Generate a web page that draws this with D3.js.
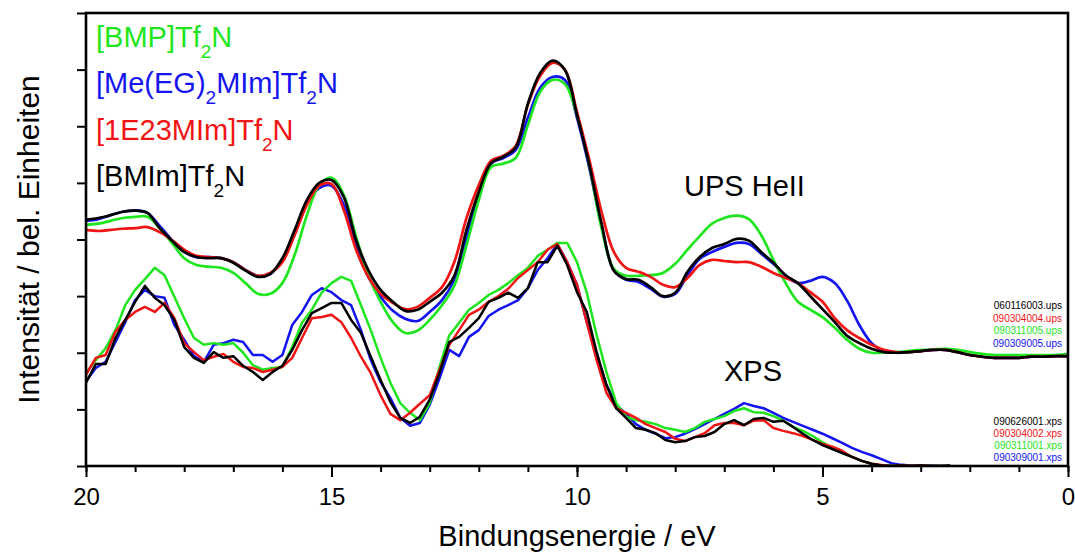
<!DOCTYPE html>
<html><head><meta charset="utf-8">
<script src="https://cdn.jsdelivr.net/npm/d3@7"></script>
<style>
body{margin:0;background:#fff;}
text{font-family:Arial,"Liberation Sans",sans-serif;}
</style></head>
<body><svg id="chart" width="1075" height="552"></svg>
<script>
// ---------- DATA ----------
// energy grids (eV)
const upsEnergy = d3.range(0, 81).map(i => 20 - i * 0.25);
const xpsEnergy = d3.range(0, 89).map(i => 20 - i * 0.2);

// UPS HeII spectra (arb. units)
const upsBMIm = [4.35,4.38,4.43,4.49,4.51,4.47,4.20,3.98,3.78,3.69,
3.67,3.67,3.59,3.45,3.34,3.39,3.67,4.17,4.70,5.00,
5.05,4.75,3.99,3.46,3.11,2.90,2.74,2.76,2.90,3.06,
3.36,4.17,4.84,5.35,5.46,5.62,6.40,6.94,7.16,7.00,
6.20,5.32,4.28,3.45,3.30,3.29,3.16,3.00,3.06,3.43,
3.69,3.85,3.92,4.01,3.98,3.78,3.59,3.37,3.23,3.00,
2.77,2.54,2.30,2.17,2.07,2.01,2.00,2.01,2.03,2.05,
2.05,2.01,1.96,1.93,1.91,1.91,1.91,1.93,1.93,1.94,
1.94];
const upsMeEG = [4.33,4.36,4.43,4.49,4.51,4.47,4.24,3.99,3.78,3.69,
3.69,3.67,3.60,3.46,3.36,3.39,3.64,4.13,4.65,4.91,
4.95,4.61,3.90,3.34,2.99,2.74,2.60,2.56,2.72,2.93,
3.29,4.03,4.75,5.34,5.44,5.58,6.15,6.68,6.87,6.82,
6.15,5.27,4.24,3.46,3.29,3.25,3.13,2.99,3.04,3.37,
3.66,3.78,3.87,3.94,3.92,3.75,3.57,3.36,3.23,3.27,
3.34,3.23,2.92,2.49,2.17,2.03,2.00,2.01,2.03,2.05,
2.05,2.01,1.96,1.93,1.91,1.91,1.91,1.93,1.93,1.94,
1.94];
const upsBMP = [4.26,4.28,4.33,4.38,4.40,4.40,4.20,3.94,3.67,3.55,
3.52,3.50,3.41,3.23,3.04,3.04,3.23,3.73,4.43,4.96,
5.09,4.79,4.05,3.37,2.90,2.54,2.35,2.39,2.58,2.84,
3.18,3.90,4.70,5.28,5.34,5.44,6.02,6.61,6.82,6.75,
6.20,5.32,4.20,3.48,3.36,3.36,3.37,3.41,3.57,3.82,
4.06,4.28,4.38,4.42,4.36,4.08,3.64,3.23,2.90,2.76,
2.63,2.44,2.23,2.07,2.00,2.00,2.01,2.03,2.05,2.06,
2.07,2.05,2.01,1.98,1.96,1.96,1.96,1.96,1.96,1.96,
1.98];
const upsE23 = [4.17,4.15,4.17,4.19,4.20,4.22,4.13,3.99,3.82,3.71,
3.69,3.67,3.60,3.46,3.36,3.41,3.60,4.08,4.61,4.95,
4.98,4.52,3.82,3.34,3.04,2.88,2.77,2.81,2.97,3.16,
3.60,4.38,4.96,5.39,5.48,5.65,6.38,6.89,7.12,7.00,
6.25,5.41,4.49,3.78,3.50,3.43,3.34,3.20,3.16,3.32,
3.55,3.64,3.62,3.60,3.60,3.52,3.41,3.32,3.23,3.07,
2.90,2.61,2.40,2.26,2.14,2.05,2.01,2.01,2.03,2.05,
2.05,2.01,1.96,1.93,1.91,1.91,1.91,1.93,1.93,1.94,
1.94];

// XPS valence spectra (arb. units)
const xpsBMIm = [1.47,1.80,1.80,2.26,2.58,2.90,3.18,2.97,2.84,2.58,
2.10,1.91,1.82,2.01,1.91,1.94,1.77,1.66,1.52,1.66,
1.77,2.05,2.40,2.70,2.79,2.88,2.88,2.58,2.35,1.93,
1.52,1.13,0.85,0.76,0.87,1.17,1.64,2.19,2.28,2.44,
2.61,2.90,2.97,3.06,2.97,3.14,3.60,3.60,3.89,3.55,
3.07,2.72,2.01,1.43,1.02,0.85,0.67,0.64,0.58,0.46,
0.42,0.44,0.51,0.53,0.60,0.74,0.81,0.72,0.83,0.85,
0.78,0.80,0.69,0.57,0.46,0.37,0.30,0.23,0.16,0.09,
0.04,0.01,0.00,0.01,0.00,0.01,0.00,0.00,0.01];
const xpsMeEG = [1.50,1.73,1.84,2.19,2.54,2.93,3.11,3.00,2.97,2.49,
2.23,1.94,1.84,2.14,2.17,2.23,2.19,1.96,1.96,1.84,
1.96,2.49,2.72,3.02,3.14,3.07,2.93,2.84,2.40,1.87,
1.48,1.20,0.85,0.71,0.76,1.08,1.55,2.05,1.94,2.28,
2.40,2.65,2.76,2.84,2.93,3.14,3.46,3.67,3.92,3.60,
3.20,2.54,1.96,1.43,1.08,0.92,0.74,0.64,0.57,0.49,
0.51,0.57,0.65,0.74,0.83,0.92,1.01,1.11,1.06,1.02,
0.94,0.85,0.78,0.71,0.64,0.57,0.49,0.41,0.32,0.25,
0.19,0.12,0.05,0.02,0.01,0.00,0.01,0.00,0.00];
const xpsBMP = [1.64,1.87,2.08,2.40,2.84,3.11,3.30,3.50,3.37,2.99,
2.61,2.26,2.14,2.17,2.14,2.17,2.00,1.78,1.70,1.73,
1.75,2.10,2.53,2.76,3.06,3.23,3.34,3.27,2.84,2.40,
1.91,1.47,1.11,0.94,0.81,1.11,1.75,2.31,2.53,2.76,
2.88,3.02,3.11,3.23,3.37,3.50,3.71,3.82,3.94,3.94,
3.60,3.06,2.31,1.66,1.11,0.87,0.81,0.78,0.74,0.67,
0.64,0.60,0.67,0.78,0.83,0.88,0.97,1.02,0.95,0.94,
0.88,0.80,0.69,0.62,0.53,0.42,0.32,0.23,0.16,0.09,
0.04,0.00,0.01,0.00,0.00,0.01,0.00,0.00,0.00];
const xpsE23 = [1.61,1.91,1.96,2.37,2.58,2.72,2.81,2.72,2.88,2.61,
2.17,2.01,1.87,1.93,1.98,1.84,1.75,1.73,1.66,1.70,
1.75,1.91,2.26,2.61,2.63,2.67,2.54,2.26,1.93,1.64,
1.25,0.92,0.81,0.94,1.10,1.25,1.70,2.14,2.40,2.67,
2.76,2.90,3.00,3.13,3.32,3.46,3.60,3.82,3.92,3.60,
3.20,2.53,1.87,1.29,1.02,0.94,0.85,0.74,0.67,0.60,
0.48,0.44,0.51,0.58,0.72,0.76,0.76,0.72,0.80,0.81,
0.67,0.62,0.58,0.53,0.46,0.39,0.34,0.27,0.16,0.09,
0.04,0.02,0.00,0.01,0.00,0.01,0.00,0.00,0.00];

// series meta
const seriesColors = ["#1414f0", "#1ee61e", "#f01414", "#000000"]; // MeEG, BMP, E23, BMIm (draw order)
const upsSeries = [upsMeEG, upsBMP, upsE23, upsBMIm];
const xpsSeries = [xpsMeEG, xpsBMP, xpsE23, xpsBMIm];

const legendColors = ["#1ee61e", "#1414f0", "#f01414", "#000000"];
const legendLabels = [
  [["[BMP]Tf",0],["2",1],["N",0]],
  [["[Me(EG)",0],["2",1],["MIm]Tf",0],["2",1],["N",0]],
  [["[1E23MIm]Tf",0],["2",1],["N",0]],
  [["[BMIm]Tf",0],["2",1],["N",0]]
];
const upsFiles = ["060116003.ups", "090304004.ups", "090311005.ups", "090309005.ups"];
const xpsFiles = ["090626001.xps", "090304002.xps", "090311001.xps", "090309001.xps"];
const fileColors = ["#000000", "#f01414", "#1ee61e", "#1414f0"];

const xMajorTicks = [20, 15, 10, 5, 0];
const xMinorTicks = d3.range(0, 21);
const yTicks = d3.range(0, 9);

// ---------- DRAW ----------
const svg = d3.select("#chart");
const L = 86, R = 1068, T = 13, B = 466;
const x = d3.scaleLinear().domain([20, 0]).range([L, R]);
const y = d3.scaleLinear().domain([0, 8]).range([B, T]);

svg.append("defs").append("clipPath").attr("id", "clip")
  .append("rect").attr("x", L).attr("y", T).attr("width", R - L).attr("height", B - T);

const plot = svg.append("g").attr("clip-path", "url(#clip)");

const upsLine = d3.line().x((d, i) => x(upsEnergy[i])).y(d => y(d)).curve(d3.curveCatmullRom.alpha(0.5));
const xpsLine = d3.line().x((d, i) => x(xpsEnergy[i])).y(d => y(d)).curve(d3.curveLinear);

xpsSeries.forEach((s, k) => {
  plot.append("path").attr("d", xpsLine(s)).attr("fill", "none")
    .attr("stroke", seriesColors[k]).attr("stroke-width", 2.5).attr("stroke-linejoin", "round");
});
upsSeries.forEach((s, k) => {
  plot.append("path").attr("d", upsLine(s)).attr("fill", "none")
    .attr("stroke", seriesColors[k]).attr("stroke-width", 2.7).attr("stroke-linejoin", "round");
});

// axes
const gx = svg.append("g").attr("transform", `translate(0,${B})`);
gx.call(d3.axisBottom(x).tickValues(xMinorTicks).tickSize(6).tickFormat(""));
gx.call(g => g.select(".domain").remove());
const gxm = svg.append("g").attr("transform", `translate(0,${B})`);
gxm.call(d3.axisBottom(x).tickValues(xMajorTicks).tickSize(11).tickPadding(11).tickFormat(d3.format("d")));
gxm.call(g => g.select(".domain").remove());
svg.selectAll(".tick line").attr("stroke", "#000").attr("stroke-width", 2);
gxm.selectAll(".tick text").attr("font-size", 24).attr("fill", "#000")
  .style("font-family", "Arial, 'Liberation Sans', sans-serif");

const gy = svg.append("g").attr("transform", `translate(${L},0)`);
gy.call(d3.axisLeft(y).tickValues(yTicks).tickSize(9).tickFormat(""));
gy.call(g => g.select(".domain").remove());
gy.selectAll(".tick line").attr("stroke", "#000").attr("stroke-width", 2);

svg.append("rect").attr("x", L).attr("y", T).attr("width", R - L).attr("height", B - T)
  .attr("fill", "none").attr("stroke", "#000").attr("stroke-width", 2.6);

// axis titles
svg.append("text").attr("x", (L + R) / 2).attr("y", 546).attr("text-anchor", "middle")
  .attr("font-size", 29).text("Bindungsenergie / eV");
svg.append("text").attr("transform", `translate(39,${(T + B) / 2}) rotate(-90)`)
  .attr("text-anchor", "middle").attr("font-size", 30).text("Intensität / bel. Einheiten");

// legend
const legendY = [47, 93, 140, 186];
legendLabels.forEach((parts, i) => {
  const t = svg.append("text").attr("x", 96).attr("y", legendY[i]).attr("font-size", 29)
    .attr("fill", legendColors[i]);
  let sub = false;
  parts.forEach(([str, isSub]) => {
    const ts = t.append("tspan").text(str);
    if (isSub && !sub) { ts.attr("dy", 11).attr("font-size", 19); sub = true; }
    else if (!isSub && sub) { ts.attr("dy", -11); sub = false; }
  });
});

// annotations
svg.append("text").attr("x", 684).attr("y", 196).attr("font-size", 29).text("UPS HeII");
svg.append("text").attr("x", 724).attr("y", 381).attr("font-size", 29).text("XPS");

upsFiles.forEach((f, i) => {
  svg.append("text").attr("x", 1062).attr("y", 309 + i * 12.5).attr("text-anchor", "end")
    .attr("font-size", 10).attr("fill", fileColors[i]).text(f);
});
xpsFiles.forEach((f, i) => {
  svg.append("text").attr("x", 1062).attr("y", 425 + i * 12).attr("text-anchor", "end")
    .attr("font-size", 10).attr("fill", fileColors[i]).text(f);
});
</script></body></html>
